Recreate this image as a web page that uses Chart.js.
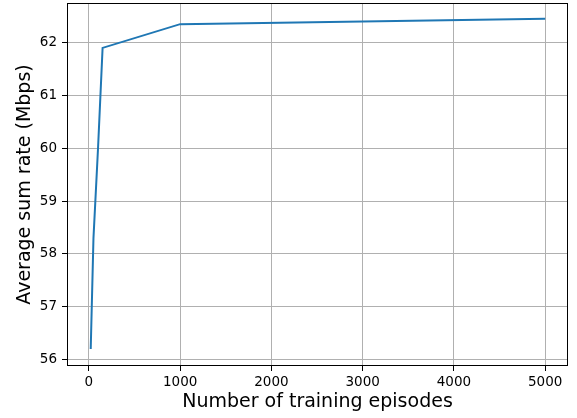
<!DOCTYPE html>
<html lang="en">
<head>
  <meta charset="UTF-8" />
  <title>Average sum rate</title>
  <style>
    body {
      margin: 0;
      background: #fff;
    }

    .wrap {
      width: 577px;
      height: 418px;
      position: relative;
    }
  </style>
</head>
<body>
  <div class="wrap">
    <canvas id="rateChart"></canvas>
  </div>

  <script src="https://cdn.jsdelivr.net/npm/chart.js@4"></script>
  <script>
    const episodes = [20, 50, 100, 150, 1000, 5000];
    const sumRate = [56.2, 58.3, 60.0, 61.9, 62.35, 62.45];
    const xTicks = [0, 1000, 2000, 3000, 4000, 5000];
    const yTicks = [56, 57, 58, 59, 60, 61, 62];

    const FONT = "'DejaVu Sans', sans-serif";

    // matplotlib-style box round the plot area
    const frameBox = {
      id: "frameBox",
      afterDraw(chart) {
        const { ctx, chartArea: a } = chart;
        ctx.save();
        ctx.strokeStyle = "#000";
        ctx.lineWidth = 1;
        ctx.strokeRect(a.left + 0.5, a.top + 0.5, a.right - a.left - 1, a.bottom - a.top - 1);
        ctx.restore();
      }
    };

    const ctx = document.getElementById("rateChart").getContext("2d");

    new Chart(ctx, {
      type: "line",
      data: {
        datasets: [{
          data: episodes.map((x, i) => ({ x: x, y: sumRate[i] })),
          borderColor: "#1f77b4",
          borderWidth: 2,
          pointRadius: 0,
          tension: 0,
          fill: false
        }]
      },
      options: {
        responsive: true,
        maintainAspectRatio: false,
        animation: false,
        layout: { padding: { top: 3, right: 9, left: 0, bottom: 0 } },
        plugins: {
          legend: { display: false },
          tooltip: { enabled: false }
        },
        scales: {
          x: {
            type: "linear",
            min: -240,
            max: 5250,
            afterBuildTicks: (scale) => {
              scale.ticks = xTicks.map(v => ({ value: v }));
            },
            afterFit: (scale) => {
              scale.height = 52;
              scale.paddingLeft = 0;
              scale.paddingRight = 0;
            },
            grid: {
              color: "#b0b0b0",
              lineWidth: 1,
              tickLength: 5,
              tickColor: "#000"
            },
            border: { display: false },
            ticks: {
              color: "#000",
              padding: 3,
              maxRotation: 0,
              callback: (v) => String(v),
              font: { family: FONT, size: 13.5 }
            },
            title: {
              display: true,
              text: "Number of training episodes",
              color: "#000",
              padding: { top: 0, bottom: 5 },
              font: { family: FONT, size: 19 }
            }
          },
          y: {
            min: 55.88,
            max: 62.75,
            afterBuildTicks: (scale) => {
              scale.ticks = yTicks.map(v => ({ value: v }));
            },
            afterFit: (scale) => {
              scale.width = 67;
              scale.paddingTop = 0;
              scale.paddingBottom = 0;
            },
            grid: {
              color: "#b0b0b0",
              lineWidth: 1,
              tickLength: 5,
              tickColor: "#000"
            },
            border: { display: false },
            ticks: {
              color: "#000",
              padding: 5,
              callback: (v) => String(v),
              font: { family: FONT, size: 13.5 }
            },
            title: {
              display: true,
              text: "Average sum rate (Mbps)",
              color: "#000",
              padding: { top: 14, bottom: 0 },
              font: { family: FONT, size: 19 }
            }
          }
        }
      },
      plugins: [frameBox]
    });
  </script>
</body>
</html>
